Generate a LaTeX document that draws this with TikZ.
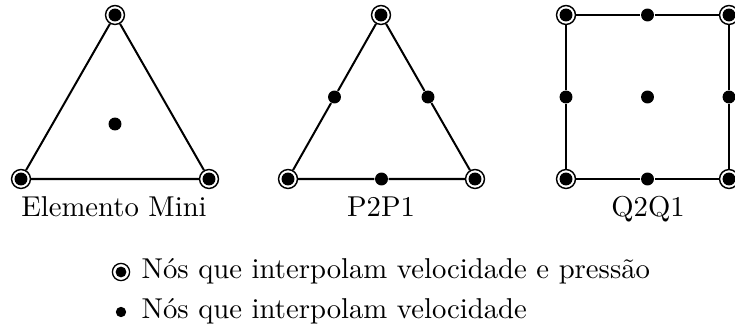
\documentclass[tikz,border=0pt]{standalone}
\begin{document}
\begin{tikzpicture}[x=0.3484pt,y=-0.3484pt,
  vp/.style={circle, fill=white, draw, line width=0.5pt, minimum size=6.6pt, inner sep=0pt,
    path picture={\fill[black] (path picture bounding box.center) circle (2.25pt);}},
  vo/.style={circle, fill=black, inner sep=0pt, minimum size=4.5pt},
  vpl/.style={circle, fill=white, draw, line width=0.45pt, minimum size=6pt, inner sep=0pt,
    path picture={\fill[black] (path picture bounding box.center) circle (1.9pt);}},
  vol/.style={circle, fill=black, inner sep=0pt, minimum size=3.6pt},
  edge/.style={line width=0.7pt},
  lab/.style={anchor=base, inner sep=0pt},
  leg/.style={anchor=base west, inner sep=0pt}]
\useasboundingbox (0,0) rectangle (735,331);
% Elemento Mini
\node[vp] (m1) at (115,15) {};
\node[vp] (m2) at (21,179) {};
\node[vp] (m3) at (209,179) {};
\node[vo] (mc) at (115,124) {};
\draw[edge] (m1) -- (m2) -- (m3) -- (m1);
\node[lab] (ml) at (114,217) {Elemento Mini};
% P2P1
\node[vp] (p1) at (381,15) {};
\node[vp] (p2) at (288,179) {};
\node[vp] (p3) at (475,179) {};
\node[vo] (p12) at (334.5,97) {};
\node[vo] (p23) at (381.5,179) {};
\node[vo] (p31) at (428,97) {};
\draw[edge] (p1) -- (p12) -- (p2) -- (p23) -- (p3) -- (p31) -- (p1);
\node[lab] (pl) at (381,217) {P2P1};
% Q2Q1
\node[vp] (q1) at (566,15) {};
\node[vp] (q2) at (729,15) {};
\node[vp] (q3) at (729,179) {};
\node[vp] (q4) at (566,179) {};
\node[vo] (q12) at (647.5,15) {};
\node[vo] (q23) at (729,97) {};
\node[vo] (q34) at (647.5,179) {};
\node[vo] (q41) at (566,97) {};
\node[vo] (qc) at (647.5,97) {};
\draw[edge] (q1) -- (q12) -- (q2) -- (q23) -- (q3) -- (q34) -- (q4) -- (q41) -- (q1);
\node[lab] (ql) at (648,217) {Q2Q1};
% Legend
\node[vpl] (l1) at (121,272) {};
\node[leg] (t1) at (141,278) {Nós que interpolam velocidade e pressão};
\node[vol] (l2) at (121,312) {};
\node[leg] (t2) at (141,318) {Nós que interpolam velocidade};
\end{tikzpicture}
\end{document}
